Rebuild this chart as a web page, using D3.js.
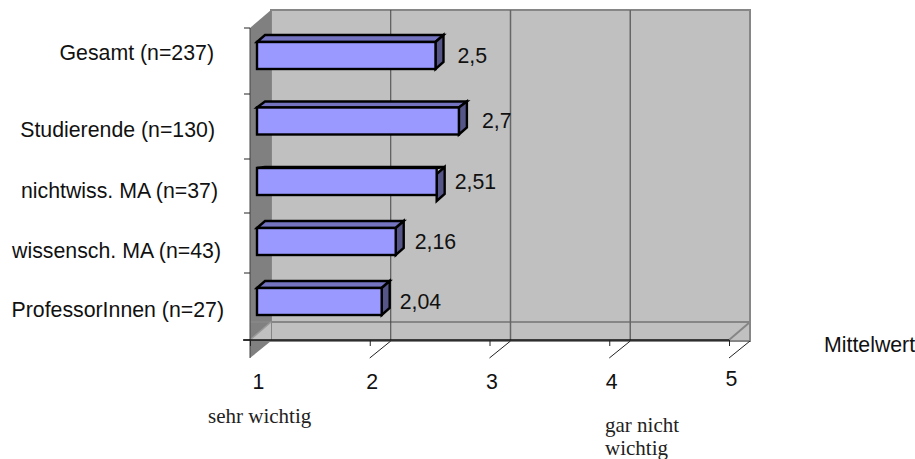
<!DOCTYPE html>
<html>
<head>
<meta charset="utf-8">
<title>Mittelwert</title>
<script src="https://cdn.jsdelivr.net/npm/d3@7"></script>
<style>
  html, body { margin: 0; padding: 0; background: #fff; }
  svg { display: block; }
  text { font-family: "Liberation Sans", Arial, sans-serif; font-size: 21.3px; fill: #111; }
  .note { font-family: "Liberation Serif", "Times New Roman", serif; font-size: 21px; fill: #222; }
</style>
</head>
<body>
<script>
// data
const categories = ["Gesamt (n=237)", "Studierende (n=130)", "nichtwiss. MA (n=37)", "wissensch. MA (n=43)", "ProfessorInnen (n=27)"];
const values = [2.5, 2.7, 2.51, 2.16, 2.04];
const valueLabels = ["2,5", "2,7", "2,51", "2,16", "2,04"];
const xTicks = [1, 2, 3, 4, 5];

// layout, the original chart was hand edited so rows are not evenly spaced
const rowCenter = d3.scaleOrdinal(categories, [55.5, 121, 181.5, 241.5, 301.5]);
const labelCenter = d3.scaleOrdinal(categories, [53, 130, 191, 251, 310]);
const labelRight = d3.scaleOrdinal(categories, [214, 215, 218, 221, 224]);
const valueGap = d3.scaleOrdinal(categories, [22, 23, 18, 19, 18]);
const topDepth = d3.scaleOrdinal(categories, [7, 6, 1, 7, 7]);   // 3rd bar has no visible top face
const sideDrop = d3.scaleOrdinal(categories, [0, 0, 6, 0, 0]);
const catTicks = [28, 94, 159, 213, 273, 340];

const W = 915, H = 459;
const depthX = 21, depthY = 18;     // chart wall offset
const barDx = 8;                    // bar depth
const barH = 27;
const floorY = 340;

const svg = d3.select("body").append("svg").attr("width", W).attr("height", H);

const x = d3.scaleLinear().domain([1, 5]).range([250, 729]);
const xBar = d3.scaleLinear().domain([1, 5]).range([260, 728]);
const poly = pts => pts.map(p => p.join(",")).join(" ");

// back wall
svg.append("polygon")
  .attr("points", poly([[x(1) + depthX, 10], [x(5) + depthX, 10], [x(5) + depthX, floorY + 1], [x(1) + depthX, floorY + 1]]))
  .attr("fill", "#c0c0c0").attr("stroke", "#868686").attr("stroke-width", 2);

// left wall
svg.append("polygon")
  .attr("points", poly([[x(1), 28], [x(1) + depthX, 10], [x(1) + depthX, floorY + 1], [x(1), floorY + depthY]]))
  .attr("fill", "#808080");
svg.append("polygon")
  .attr("points", poly([[x(1), floorY], [x(1) + depthX, floorY - depthY], [x(1) + depthX, floorY]]))
  .attr("fill", "#c0c0c0");

// back floor line and right corner
svg.append("line")
  .attr("x1", x(1)).attr("x2", x(5) + depthX)
  .attr("y1", floorY - depthY).attr("y2", floorY - depthY)
  .attr("stroke", "#868686").attr("stroke-width", 2);
svg.append("line")
  .attr("x1", x(1)).attr("x2", x(1) + depthX)
  .attr("y1", floorY).attr("y2", floorY - depthY)
  .attr("stroke", "#9a9a9a").attr("stroke-width", 1.5);
svg.append("line")
  .attr("x1", x(5)).attr("x2", x(5) + depthX)
  .attr("y1", floorY).attr("y2", floorY - depthY)
  .attr("stroke", "#868686").attr("stroke-width", 2);

// grid lines
svg.append("g").selectAll("line")
  .data(xTicks.slice(1, 4)).join("line")
  .attr("x1", d => x(d) + depthX).attr("x2", d => x(d) + depthX)
  .attr("y1", 10).attr("y2", floorY)
  .attr("stroke", (d, i) => i === 0 ? "#444" : "#666").attr("stroke-width", (d, i) => i === 0 ? 1 : 1.5);

// left axis line + category ticks
svg.append("line")
  .attr("x1", x(1)).attr("x2", x(1)).attr("y1", 28).attr("y2", floorY + depthY)
  .attr("stroke", "#444").attr("stroke-width", 1);
svg.append("g").selectAll("line")
  .data(catTicks).join("line")
  .attr("x1", x(1) - 6).attr("x2", x(1))
  .attr("y1", d => d).attr("y2", d => d)
  .attr("stroke", "#222");

// x axis
const axis = svg.append("g")
  .attr("transform", `translate(0,${floorY})`)
  .call(d3.axisBottom(x).tickValues(xTicks).tickSize(6).tickPadding(28).tickFormat(d3.format("d")));
axis.select(".domain").attr("stroke", "#111").attr("stroke-width", 1.5).attr("d", `M${x(1) - 7},0H${x(5)}`);
axis.selectAll("text").attr("font-size", null).attr("font-family", null)
  .attr("dx", d => d === 1 ? 8 : 2)
  .attr("dy", d => d === 5 ? "0.58em" : "0.71em");
axis.selectAll(".tick line").attr("stroke", "#222");

// slanted tick marks under the floor
svg.append("g").selectAll("line")
  .data(xTicks.slice(1)).join("line")
  .attr("x1", d => x(d)).attr("x2", d => x(d) + depthX)
  .attr("y1", floorY + depthY).attr("y2", floorY + 1)
  .attr("stroke", "#222");

// bars
const rows = categories.map((c, i) => ({ c, v: values[i], label: valueLabels[i] }));
const bars = svg.append("g").selectAll("g").data(rows).join("g")
  .attr("stroke", "#000").attr("stroke-width", 2.4).attr("stroke-linejoin", "miter");
const x0 = 257;
bars.append("polygon").attr("fill", "#7373c0")
  .attr("points", d => {
    const t = rowCenter(d.c) - barH / 2, r = xBar(d.v), k = topDepth(d.c);
    return poly([[x0, t], [x0 + barDx, t - k], [r + barDx, t - k], [r, t]]);
  });
bars.append("polygon").attr("fill", "#555588")
  .attr("points", d => {
    const t = rowCenter(d.c) - barH / 2, r = xBar(d.v), k = topDepth(d.c), s = sideDrop(d.c);
    return poly([[r, t + s], [r + barDx, t - k], [r + barDx, t + barH - 7 + s], [r, t + barH + s]]);
  });
bars.append("rect").attr("fill", "#9999ff")
  .attr("x", x0).attr("width", d => xBar(d.v) - x0)
  .attr("y", d => rowCenter(d.c) - barH / 2).attr("height", barH);

// value labels
svg.append("g").selectAll("text").data(rows).join("text")
  .attr("x", d => xBar(d.v) + valueGap(d.c))
  .attr("y", d => rowCenter(d.c))
  .attr("dy", "0.35em")
  .text(d => d.label);

// category labels
svg.append("g").selectAll("text").data(categories).join("text")
  .attr("text-anchor", "end")
  .attr("x", d => labelRight(d))
  .attr("y", d => labelCenter(d))
  .attr("dy", "0.35em")
  .text(d => d);

svg.append("text").attr("x", 824).attr("y", 352).text("Mittelwert");
svg.append("text").attr("class", "note").attr("x", 208).attr("y", 423).text("sehr wichtig");
svg.append("text").attr("class", "note").attr("x", 605).attr("y", 432).text("gar nicht");
svg.append("text").attr("class", "note").attr("x", 605).attr("y", 455).text("wichtig");
</script>
</body>
</html>
